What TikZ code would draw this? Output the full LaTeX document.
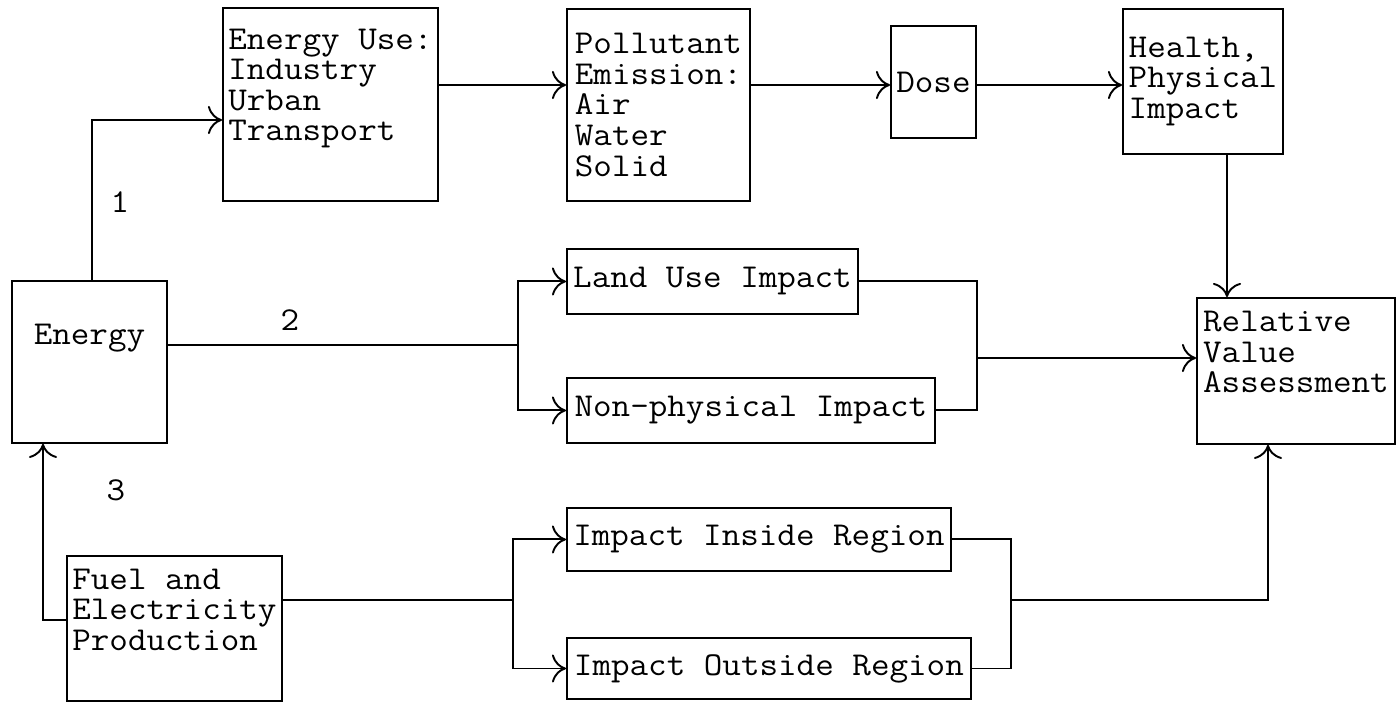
\documentclass[tikz,border=0pt]{standalone}
\usepackage{fontspec}
\setmonofont[FakeStretch=1.08]{Latin Modern Mono}
\usetikzlibrary{arrows.meta,positioning,calc}
\tikzset{
  tw/.style={font=\ttfamily\fontsize{19pt}{17.4pt}\selectfont},
  flowbox/.style={tw, draw, line width=1.1pt, anchor=north west, align=left, inner sep=1pt},
  link/.style={line width=1.1pt},
  arr/.style={link, -{Computer Modern Rightarrow[length=8pt,width=16pt]}}
}

\begin{document}
\begin{tikzpicture}[x=0.02cm, y=-0.02cm]
  \useasboundingbox[fill=white] (0,0) rectangle (1400,703);

  %% Boxes (north west corner, size)
  \node[flowbox, align=center, minimum width=3.10cm, minimum height=3.24cm] (energy)  at (11,280)   {Energy\\[14pt]};
  \node[flowbox, minimum width=4.30cm, minimum height=3.86cm] (euse)    at (222,7)    {Energy Use:\\Industry\\Urban\\Transport\\[5pt]};
  \node[flowbox, minimum width=3.66cm, minimum height=3.84cm] (pollut)  at (566,8)    {Pollutant\\Emission:\\Air\\Water\\Solid};
  \node[flowbox, minimum width=1.70cm, minimum height=2.24cm] (dose)    at (890,25)   {Dose};
  \node[flowbox, minimum width=3.20cm, minimum height=2.90cm] (health)  at (1122,8)   {Health,\\Physical\\Impact};
  \node[flowbox, minimum width=3.96cm, minimum height=2.92cm] (relval)  at (1196,297) {Relative\\Value\\Assessment\\[4pt]};
  \node[flowbox, minimum width=5.82cm, minimum height=1.30cm] (landuse) at (566,248)  {Land Use Impact};
  \node[flowbox, minimum width=7.36cm, minimum height=1.30cm] (nonphys) at (566,377)  {Non-physical Impact};
  \node[flowbox, minimum width=7.68cm, minimum height=1.26cm] (inside)  at (566,507)  {Impact Inside Region};
  \node[flowbox, minimum width=8.08cm, minimum height=1.22cm] (outside) at (566,637)  {Impact Outside Region};
  \node[flowbox, minimum width=4.30cm, minimum height=2.90cm] (fuel)    at (66,555)   {Fuel and\\Electricity\\Production\\[4pt]};

  %% Path numbers
  \node[tw] (lab1) at (120,202) {1};
  \node[tw] (lab2) at (290,320) {2};
  \node[tw] (lab3) at (116,490) {3};

  %% Junction points
  \coordinate (toprow) at (0,85);
  \coordinate (bend1)  at (92,120);
  \coordinate (downx)  at (1227,0);
  \coordinate (j2)     at (518,345);
  \coordinate (j4)     at (977,358);
  \coordinate (j6)     at (513,600);
  \coordinate (j7)     at (1011,600);
  \coordinate (upx)    at (1268,0);
  \coordinate (j8)     at (43,620);

  %% Path 1
  \draw[arr] (energy.north -| bend1) |- (euse.west |- bend1);
  \draw[arr] (euse.east |- toprow) -- (pollut.west |- toprow);
  \draw[arr] (pollut.east |- toprow) -- (dose.west |- toprow);
  \draw[arr] (dose.east |- toprow) -- (health.west |- toprow);
  \draw[arr] (health.south -| downx) -- (relval.north -| downx);

  %% Path 2
  \draw[link] (energy.east |- j2) -- (j2);
  \draw[arr] (j2) |- (landuse.west);
  \draw[arr] (j2) |- (nonphys.west);
  \draw[link] (landuse.east) -| (j4) |- (nonphys.east);
  \draw[arr] (j4) -- (relval.west |- j4);

  %% Path 3
  \draw[arr] (fuel.west |- j8) -| (energy.south -| j8);
  \draw[link] (fuel.east |- j6) -- (j6);
  \draw[arr] (j6) |- (inside.west);
  \draw[arr] (j6) |- (outside.west);
  \draw[link] (inside.east) -| (j7) |- (outside.east);
  \draw[arr] (j7) -| (relval.south -| upx);
\end{tikzpicture}
\end{document}
